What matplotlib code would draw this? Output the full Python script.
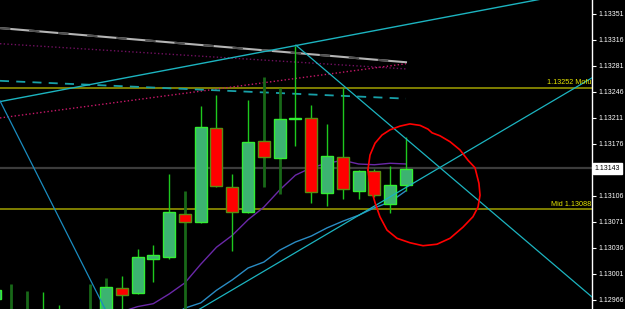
# chart replica: EURUSD-like candles with trend lines and moving averages
from matplotlib import pyplot as plt

# =========================================================
## --- data: candles (index, open, high, low, close) --- ##
idx = list(range(-7, 20))
opn = [1.12967, 1.12945, 1.12945, 1.12945, 1.12945, 1.12940, 1.12945,
       1.12940, 1.12982, 1.12975, 1.13021, 1.13024, 1.13082, 1.13071,
       1.13197, 1.13118, 1.13084, 1.13180, 1.13157, 1.13210, 1.13211,
       1.13110, 1.13158, 1.13113, 1.13140, 1.13095, 1.13121]
hig = [1.12982, 1.12987, 1.12978, 1.12977, 1.12959, 1.12945, 1.12987,
       1.12996, 1.12998, 1.13035, 1.13040, 1.13136, 1.13113, 1.13227,
       1.13242, 1.13136, 1.13235, 1.13266, 1.13251, 1.13308, 1.13228,
       1.13203, 1.13251, 1.13141, 1.13142, 1.13146, 1.13185]
low = [1.12960, 1.12930, 1.12930, 1.12930, 1.12930, 1.12930, 1.12930,
       1.12930, 1.12945, 1.12974, 1.12990, 1.13021, 1.12940, 1.13070,
       1.13118, 1.13032, 1.13083, 1.13118, 1.13109, 1.13173, 1.13097,
       1.13093, 1.13102, 1.13102, 1.13105, 1.13083, 1.13113]
cls = [1.12979, 1.12940, 1.12940, 1.12940, 1.12940, 1.12935, 1.12940,
       1.12983, 1.12973, 1.13024, 1.13027, 1.13084, 1.13071, 1.13199,
       1.13119, 1.13084, 1.13179, 1.13158, 1.13210, 1.13210, 1.13111,
       1.13160, 1.13115, 1.13140, 1.13107, 1.13121, 1.13142]
wick_dark = [0, 1, 1, 0, 0, 0, 1, 1, 0, 0, 0, 0, 1, 0,
             0, 0, 0, 1, 1, 0, 0, 0, 0, 0, 0, 0, 0]

## --- data: moving averages --- ##
ma_p_x = list(range(0, 20))
ma_p = [1.12939, 1.12950, 1.12957, 1.12961, 1.12974, 1.12989, 1.13014,
        1.13037, 1.13053, 1.13074, 1.13091, 1.13114, 1.13134, 1.13144,
        1.13150, 1.13154, 1.13149, 1.13148, 1.13150, 1.13149]
ma_b_x = list(range(4, 20))
ma_b = [1.12942, 1.12955, 1.12962, 1.12979, 1.12993, 1.13009, 1.13017,
        1.13033, 1.13044, 1.13052, 1.13063, 1.13072, 1.13080, 1.13090,
        1.13098, 1.13113]

## --- data: upper lines (start/end) --- ##
ln_x = [-6.71, 19]
ln_grey = [1.13332, 1.13286]
ln_purp = [1.13311, 1.13277]
ln_pink = [1.13211, 1.13284]
ln_dash = [1.13261, 1.13237]

## --- data: trend lines --- ##
tl_up1_x, tl_up1 = [-6.71, 30.78], [1.13233, 1.13384]
tl_dn1_x, tl_dn1 = [12.03, 30.78], [1.13309, 1.12970]
tl_up2_x, tl_up2 = [5.0, 30.78], [1.12942, 1.13265]
tl_dn2_x, tl_dn2 = [-6.71, -0.06], [1.13234, 1.12954]

## --- data: levels --- ##
lvl_mofu, lvl_mid, lvl_now = 1.13252, 1.13088, 1.13143
yticks = [1.12966, 1.13001, 1.13036, 1.13071, 1.13106,
          1.13176, 1.13211, 1.13246, 1.13281, 1.13316, 1.13351]

## --- data: hand drawn circle --- ##
circ_x = [16.59, 16.72, 17.04, 17.48, 17.99, 18.62, 19.25, 19.89, 20.39,
          20.65, 21.15, 21.79, 22.42, 22.93, 23.37, 23.62, 23.69, 23.56,
          23.24, 22.61, 21.79, 20.96, 20.08, 19.25, 18.43, 17.80, 17.35,
          17.04, 16.72, 16.59]
circ_y = [1.13141, 1.13161, 1.13177, 1.13188, 1.13195, 1.13200, 1.13203,
          1.13201, 1.13196, 1.13191, 1.13187, 1.13179, 1.13168, 1.13154,
          1.13144, 1.13123, 1.13107, 1.13091, 1.13078, 1.13064, 1.13049,
          1.13041, 1.13039, 1.13043, 1.13049, 1.13060, 1.13078, 1.13097,
          1.13121, 1.13141]

# =========================================================
## --- drawing --- ##
plt.rcParams['font.family'] = ['Liberation Sans', 'DejaVu Sans']
fig = plt.figure(figsize=(6.25, 3.09), dpi=100, facecolor='black')
ax = fig.add_axes([0, 0, 592/625, 1])
ax.set_facecolor('black')
ax.set_xlim(-6.71, 30.78)
ax.set_ylim(1.129538, 1.133698)

# levels
ax.axhline(lvl_mofu, color='#7f7f00', lw=1.4, zorder=1)
ax.axhline(lvl_mid, color='#7f7f00', lw=1.4, zorder=1)
ax.axhline(lvl_now, color='#3c3c3c', lw=1.6, zorder=1)
ax.text(30.75, lvl_mofu + 0.00002, '1.13252 Mofu', color='#e6e600',
        fontsize=5.2, ha='right', va='bottom', zorder=6)
ax.text(30.75, lvl_mid + 0.00002, 'Mid 1.13088', color='#e6e600',
        fontsize=5.2, ha='right', va='bottom', zorder=6)

# upper averaged lines
ax.plot(ln_x, ln_grey, color='#b4b4b4', lw=1.5, zorder=2)
ax.plot(ln_x, ln_grey, color='#505050', lw=1.5, dashes=(5, 9), zorder=2)
ax.plot(ln_x, ln_purp, color='#701060', lw=1, ls=':', zorder=2)
ax.plot(ln_x, ln_pink, color='#c8186a', lw=1, ls=':', zorder=2)
ax.plot(ln_x, ln_dash, color='#18a0a8', lw=1.3, dashes=(5, 4), zorder=2)

# moving averages
ax.plot(ma_p_x, ma_p, color='#6a28a8', lw=1, zorder=2)
ax.plot(ma_b_x, ma_b, color='#2a8cc4', lw=1, zorder=2)

# candles
for i, o, h, l, c, d in zip(idx, opn, hig, low, cls, wick_dark):
    if d:
        ax.vlines(i, l, h, color='#186818', lw=2, zorder=3)
    else:
        ax.vlines(i, l, h, color='#1ec81e', lw=1, zorder=3)
    if c >= o:
        ax.bar(i, max(c - o, 0.000012), bottom=o, width=0.76,
               color='#3cb371', edgecolor='#33ee33', lw=1, zorder=4)
    else:
        ax.bar(i, o - c, bottom=c, width=0.76,
               color='#ff0000', edgecolor='#5a8c10', lw=1, zorder=4)

# trend lines
ax.plot(tl_up1_x, tl_up1, color='#1cb4c0', lw=1, zorder=5)
ax.plot(tl_dn1_x, tl_dn1, color='#1cb4c0', lw=0.9, zorder=5)
ax.plot(tl_up2_x, tl_up2, color='#1cb4c0', lw=0.9, zorder=5)
ax.plot(tl_dn2_x, tl_dn2, color='#1a8cc0', lw=0.9, zorder=5)

# hand drawn circle
ax.plot(circ_x, circ_y, color='#ff0000', lw=1.2, zorder=6)

# right price axis
ax.yaxis.tick_right()
ax.set_yticks(yticks)
ax.set_yticklabels([f'{v:.5f}' for v in yticks])
ax.tick_params(axis='y', colors='white', labelsize=5, length=3,
               width=0.8, pad=1.5)
ax.set_xticks([])
for s in ['top', 'bottom', 'left']:
    ax.spines[s].set_visible(False)
ax.spines['right'].set_color('white')
ax.spines['right'].set_linewidth(1)
ax.text(1.004, lvl_now, '1.13143', transform=ax.get_yaxis_transform(),
        color='black', fontsize=5, va='center', ha='left',
        bbox=dict(boxstyle='square,pad=0.25', fc='white', ec='white'),
        clip_on=False, zorder=7)

fig.savefig('out.png', dpi=100, facecolor='black')
